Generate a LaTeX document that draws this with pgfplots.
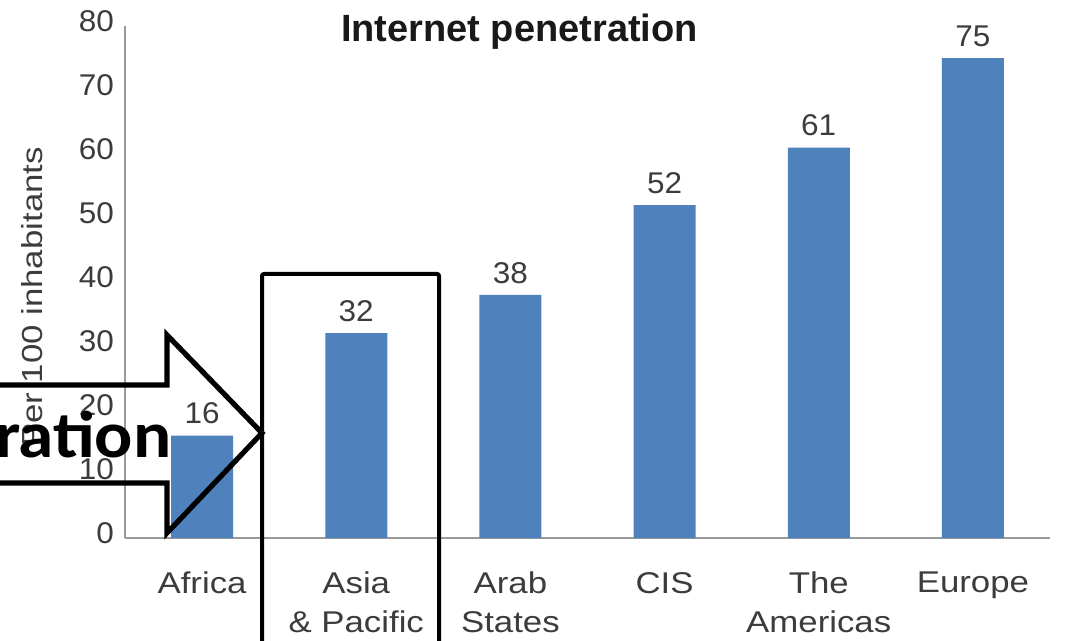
\documentclass[border=0pt]{standalone}
\usepackage{pgfplots}
\pgfplotsset{compat=1.18}
\usepackage{fontspec}
\setmainfont{Liberation Sans}
\newfontfamily\wide[FakeStretch=1.16]{Liberation Sans}
\newfontfamily\ywide[FakeStretch=1.2]{Liberation Sans}
\newfontfamily\tickf[FakeStretch=1.05]{Liberation Sans}
\newfontfamily\calib[FakeStretch=1.08]{Carlito}
\definecolor{barblue}{HTML}{4F81BD}
\definecolor{txt}{HTML}{3C3C3C}
\definecolor{axgray}{HTML}{9A9A9A}
\begin{document}
\begin{tikzpicture}
\useasboundingbox (0,0) rectangle (533.5pt,-320.5pt);
\begin{axis}[
  at={(62.5pt,-269pt)}, anchor=south west,
  scale only axis, width=462.5pt, height=256pt,
  xmin=-0.5, xmax=5.5, ymin=0, ymax=80,
  axis lines*=left,
  axis line style={draw=axgray, line width=0.8pt},
  ytick={0,10,...,80},
  major tick length=0pt,
  xtick=data,
  xticklabels={{Africa},{Asia\\\& Pacific},{Arab\\States},{CIS},{The\\Americas},{Europe}},
  xticklabel style={font={\wide\fontsize{15}{19.5}\selectfont}, text=txt, align=center, anchor=north, yshift=-13.5pt},
  yticklabel style={font=\tickf\fontsize{15}{15}\selectfont, text=txt, yshift=2.5pt, xshift=-2pt},
  /pgf/number format/assume math mode=true,
  ybar, bar width=31pt,
  nodes near coords,
  nodes near coords style={font=\tickf\fontsize{15}{15}\selectfont, text=txt, inner sep=0pt, anchor=south, yshift=5.5pt},
  clip=false,
]
\addplot[fill=barblue, draw=none] coordinates {(0,16) (1,32) (2,38) (3,52) (4,61) (5,75)};
\end{axis}
% title and y label
\node[anchor=base, font=\bfseries\fontsize{19}{19}\selectfont, text=black!90] at (259.75pt,-21pt) {Internet penetration};
\node[rotate=90, anchor=base, font=\ywide\fontsize{14.5}{14.5}\selectfont, text=txt] at (21pt,-148.5pt) {Per 100 inhabitants};
% overlay annotations
\begin{scope}[x=0.5pt, y=-0.5pt]
\node[anchor=base east, inner sep=0pt, font=\calib\bfseries\fontsize{33}{33}\selectfont] at (172,458) {Penetration};
\draw[line width=2.6pt, line join=miter] (-20,385) -- (167,385) -- (167,335) -- (262,433) -- (167,533) -- (167,483) -- (-20,483);
\draw[line width=2pt, rounded corners=1pt] (262,274) rectangle (439,670);
\end{scope}
\end{tikzpicture}
\end{document}
